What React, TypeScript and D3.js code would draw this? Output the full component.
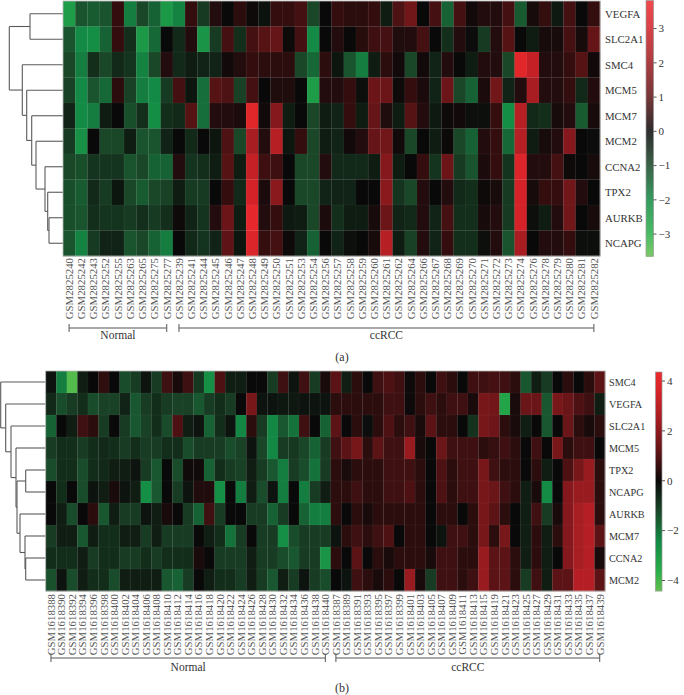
import * as d3 from "d3";

// ---------- panel (a) ----------
const topGenes = ["VEGFA", "SLC2A1", "SMC4", "MCM5", "MCM7", "MCM2", "CCNA2", "TPX2", "AURKB", "NCAPG"];
const topSamples = [
  "GSM2825240", "GSM2825242", "GSM2825243", "GSM2825252", "GSM2825255", "GSM2825263", "GSM2825265", "GSM2825275", "GSM2825277",
  "GSM2825239", "GSM2825241", "GSM2825244", "GSM2825245", "GSM2825246", "GSM2825247", "GSM2825248", "GSM2825249", "GSM2825250",
  "GSM2825251", "GSM2825253", "GSM2825254", "GSM2825256", "GSM2825257", "GSM2825258", "GSM2825259", "GSM2825260", "GSM2825261",
  "GSM2825262", "GSM2825264", "GSM2825266", "GSM2825267", "GSM2825268", "GSM2825269", "GSM2825270", "GSM2825271", "GSM2825272",
  "GSM2825273", "GSM2825274", "GSM2825276", "GSM2825278", "GSM2825279", "GSM2825280", "GSM2825281", "GSM2825282",
];
const topGroups = [{ label: "Normal", n: 9 }, { label: "ccRCC", n: 35 }];
const topValues = [
  [-2.5, -1.2, -1.3, -1.2, 0.5, -1.8, -1, -1.4, -2.4, -1.9, 0.5, -0.8, 0.3, 0, 0.4, 0.05, -0.15, 0.5, 0.5, 0.7, -1, 0, 0.5, 0.4, 0.4, 0.5, -0.3, 0.8, 1.3, 0, 0.7, -1.4, 0.7, 0.1, 0.3, 0.3, 0.7, -1.3, 0.15, 0.5, -0.25, 0.7, 0, 0.5],
  [-1.2, -2, -2.1, -1.4, 0.5, -0.6, -2.4, -1.5, 0, -0.5, 0.3, -2.3, -0.8, 0.7, -0.6, 0.7, 0.9, 1.1, 0.05, 0.7, -2, 0, 0.3, 0, 0.35, 0.6, 0.7, 0.25, 0.3, 0.7, 0, -0.6, 0.3, -0.05, -0.8, 0.3, 0.9, 0, -0.3, 0.15, 0.15, 0.7, 0.15, 1.1],
  [-1, -1.8, -0.6, -1, -0.5, -0.7, -1.9, -1, 0.3, -0.5, -0.3, -0.4, -0.4, 0.1, 0.3, 0.5, 0.4, 0.4, 0.4, -1, -1.5, 0.4, -0.2, -1.2, -1.8, -0.3, 0.4, 0.1, -1, 0.1, -0.4, 0.3, 0, -0.3, 0.3, 0.3, -1, 3.5, 2.8, 0.3, 0.3, 0.5, 0.9, 0.1],
  [-0.9, -2, -1.2, -1.5, 0.4, -0.9, -1.8, -2, -0.8, 0.7, -0.2, -1.6, 0.9, 0.8, -0.9, 0.7, 0, 0.25, 0.25, 0, -2.5, 0.3, 0.3, 0.5, -0.1, 1.2, 1.2, 0.05, 0.5, 0.2, -0.4, 1.2, -1, -1.4, 0.2, 1.3, -0.4, 0.3, 2.2, 0.3, 0.3, 0.5, -0.5, 0.3],
  [-0.4, -2, -1.8, -0.3, 0, -1.1, -0.6, -2.1, -0.6, -0.5, 0.9, -1.6, 0.3, 0.3, 0.2, 3.5, 0.1, 1.6, -0.3, 0, -1, -0.3, -0.4, 0.5, -0.3, 1.1, 0.25, -0.3, 0.9, 0.3, -0.25, 0.05, 0.1, -0.1, -0.1, 0.5, -2.1, 2.5, -0.5, -0.6, 0.15, 0.3, -1.3, 0.15],
  [-0.8, -2.2, 0, -1, -1, -0.3, -1.2, -1.2, -0.4, 0, -0.5, 0, -0.2, 0.8, -1, 2.2, 0.3, 2.5, -0.2, 0.5, -1, -0.3, -0.4, 0.1, 0.3, 1.1, 1.3, 0.1, -1, 0, -0.3, 0.02, -1, -1.4, 0.3, 0.5, -1.5, 2.5, -0.3, 0.15, 0.3, 1.6, 0, -0.05],
  [-1, -1.1, -0.7, -0.7, -0.7, -1.2, -1, -1.4, -1.4, 0.3, -0.7, -0.6, -0.3, 0.9, -0.3, 2.8, 0.6, 0.6, 0, -1, -1, 0.3, -0.5, -0.5, -0.5, -0.3, 1.6, -0.3, 0, 0.5, -0.7, 1.2, -0.8, -1.2, 0.2, 0.5, -0.7, 3.3, 0.3, 0.3, 0.7, 0.05, 0, 0.15],
  [-1.1, -1.3, -0.5, -0.8, -0.2, -1, -1.3, -1, -0.9, -0.3, -0.8, -0.8, 0, 0.5, -0.5, 3.1, 0.2, 1.7, 0, -1, -1, -0.4, -0.4, -0.4, 0, 0, 1.7, -0.7, -1, 0.3, 0, 0.3, -0.5, -0.6, 0.05, 0.15, -0.8, 3.1, 0.15, 0.5, 0.5, 1.3, 0.3, 0],
  [-1.1, -1.2, -0.6, -0.7, -0.7, -0.8, -0.6, -0.8, -0.6, 0.05, -0.4, -0.7, 0.3, 1.2, -0.3, 3.6, 0.3, 0.5, -0.25, -0.3, -1, 0.2, -0.6, -0.3, -0.3, 0.15, 1.2, -0.4, -0.5, 0.3, -0.4, 0.7, -0.6, -0.6, 0.15, 0.3, -0.8, 3.1, -0.1, -0.3, 0.3, 1.3, 0, 0.15],
  [-1.2, -1.9, -0.8, -0.4, -0.4, -1.2, -1, -1.4, -1.8, 0, -0.5, -0.7, -0.4, 1, -0.2, 3.3, 0.5, 0.7, 0.05, -0.4, -1.4, 0, -0.4, -0.1, 0, 0.15, 2.5, -0.3, -0.9, 0.3, -0.4, 0.5, -0.6, -0.6, -0.1, 0.3, -1.2, 2.2, 0, 0.3, 0.3, 0.5, -0.1, -0.1],
];
// row clustering, merge heights in pixel-distance units from the heatmap edge
const topTree = {
  h: 53.7, children: [
    { h: 33, children: [{ name: "VEGFA" }, { name: "SLC2A1" }] },
    { h: 40.7, children: [{ name: "SMC4" },
      { h: 36.3, children: [{ name: "MCM5" },
        { h: 31.3, children: [{ name: "MCM7" },
          { h: 27, children: [{ name: "MCM2" },
            { h: 18, children: [{ name: "CCNA2" },
              { h: 15.3, children: [{ name: "TPX2" },
                { h: 14, children: [{ name: "AURKB" }, { name: "NCAPG" }] }] }] }] }] }] }] },
  ],
};
const topTicks = [3, 2, 1, 0, -1, -2, -3];
const topRange = [-3.64, 3.82];

// ---------- panel (b) ----------
const botGenes = ["SMC4", "VEGFA", "SLC2A1", "MCM5", "TPX2", "NCAPG", "AURKB", "MCM7", "CCNA2", "MCM2"];
const botSamples = [
  "GSM1618388", "GSM1618390", "GSM1618392", "GSM1618394", "GSM1618396", "GSM1618398", "GSM1618400", "GSM1618402", "GSM1618404",
  "GSM1618406", "GSM1618408", "GSM1618410", "GSM1618412", "GSM1618414", "GSM1618416", "GSM1618418", "GSM1618420", "GSM1618422",
  "GSM1618424", "GSM1618426", "GSM1618428", "GSM1618430", "GSM1618432", "GSM1618434", "GSM1618436", "GSM1618438", "GSM1618440",
  "GSM1618387", "GSM1618389", "GSM1618391", "GSM1618393", "GSM1618395", "GSM1618397", "GSM1618399", "GSM1618401", "GSM1618403",
  "GSM1618405", "GSM1618407", "GSM1618409", "GSM1618411", "GSM1618413", "GSM1618415", "GSM1618419", "GSM1618421", "GSM1618423",
  "GSM1618425", "GSM1618427", "GSM1618429", "GSM1618431", "GSM1618433", "GSM1618435", "GSM1618437", "GSM1618439",
];
const botGroups = [{ label: "Normal", n: 27 }, { label: "ccRCC", n: 26 }];
const botValues = [
  [-0.2, -2.2, -4.2, -0.4, 0, 0.5, 0, -1.3, -1, -0.2, -1, 0.7, 0.2, 0.7, -0.9, -2.6, 0.9, -0.4, -0.4, 0, 0, -1, 0.7, -0.2, 0.7, -1, 0.2, 1.1, -0.4, 0.45, 0, 0.7, 0.9, 0.7, 0.05, 0.45, 0, 0.7, 0.45, 0, 0.7, 0.7, 0.8, 0.7, 0.45, -1.5, -0.4, -1, 0, 0.45, 0, 0.45, 1.1],
  [-0.6, -1.3, -1, -0.7, -1.3, -1.1, -1.1, -0.5, -1.5, -1, -0.7, -1, -1.1, -1.1, -1.5, -1, -0.7, -1, 0, 1.6, -0.2, -0.2, -0.3, -0.3, -0.2, -0.2, -0.2, 0.45, 0.45, 0.45, 0.45, 0.45, 0.7, 0.7, 0.05, 0.45, 0.7, 0.45, 0.7, 0.7, 0.2, 1.6, 1.5, -3.3, 0.2, 1.35, 1.35, -1.5, 1.6, 1.35, 0.9, 0.7, -0.4],
  [-1.7, 0, -0.4, 0.7, 0.45, -1, 0, -1, -1.5, -1.1, -0.7, -1.3, 0.9, -0.4, -0.2, -1.7, -0.7, -0.2, -2.4, 0.45, -1, -2.4, -1.5, -2, 0.7, 0, -1.7, 1.1, 0, 0.45, -0.1, 0.45, 0.9, 0.45, 0.7, 0.2, 1.1, 0.45, 0.45, 0, -0.8, 1.6, 1.4, 0.45, 0.2, -0.4, 0, -1.5, 0, 1.35, 0.45, 0.2, 0.45],
  [-1, -0.7, -0.7, -1, -0.7, -0.6, -0.7, -1, -0.7, -1, -1, -0.7, -0.7, -1.3, -1, -1, -1, -1.3, -1.1, -0.2, -1.2, -2.4, -1, -0.9, -1.2, -1.7, -1, 0.7, 1.1, 1.6, 0.45, 1.1, 0.7, 0.7, 2.2, 0.2, 0, 1.35, 0.7, 0.7, 0.7, 0.45, 0.6, 0.7, 0.45, 0, 0.7, 0, 1.6, 0.45, 0.7, 0.7, 0],
  [-1.3, -0.7, -0.7, -1.3, -0.7, -0.6, -0.4, -0.4, -0.2, -1, -1.5, 0, -1.3, 0.1, 0.1, -1.7, -0.7, -1, -1.1, -0.4, -1, -1.5, -2.2, -1, -1.3, -2, -1, 0.45, 0.2, 0.45, 0.45, 0.45, 0.7, 0.7, 0.7, 0.45, 0, 0.9, 0.45, 0.7, 0.7, 1.6, 0.7, 0.45, 0.45, 0, 0.45, -0.4, 0, 0.9, 1.6, 2.2, 0.45],
  [0, -0.7, 0, -1.3, -0.2, -0.4, 0.2, -0.2, -0.4, -2.6, -1.5, 0, -1, -0.2, 0.3, 0.3, -2.6, 0, -2.2, -0.4, -1.3, -0.2, -2.2, 0, -2.2, -1, -0.4, 0.45, 0.45, 0.7, 0.45, 0.45, 0.7, 0.7, 0.9, 0.45, 0, 0.9, 0.45, 0.7, 0.7, 1.6, 1.35, 0.7, 0.45, -0.4, 0.2, -2.5, 0, 1.85, 2.2, 2.2, 0.45],
  [0, -0.4, -1.3, 0, 0.45, -1.5, -0.4, -1, -1, -0.2, -0.4, 0.2, 0, -1, -1.7, 0.7, -1, 0, 0, -1, -1, -1.7, -1, 0, -1.7, -2.2, -2.2, 0.45, 0, 0.45, 0.2, 0.45, 0.45, 0.45, 0.45, 0.45, 0, 0.45, 0.45, 0, 0.45, 1.6, 1.1, 0.45, 0, -0.4, 0.7, -1, 0.2, 1.85, 2.5, 2.8, 0.45],
  [-1, -0.4, -0.4, -1.5, -0.4, -0.7, -0.7, -0.4, -0.4, -1, -0.4, -1, -1, -1, 0, -0.4, -0.7, -2, -1, 0, -1, -1, -2.6, -1.3, -1, -1, -1, -0.2, 0.45, 0.7, 0.45, 0.7, 0.9, 0, 0.45, 0.45, 0, -0.2, 0.7, 0.7, 0.45, 1.6, 0.45, 1.6, 0, -0.4, 0.45, -0.4, 0.45, 1.85, 2.5, 2.8, 1.1],
  [-0.7, -0.7, -0.7, -0.4, -1, -0.7, -0.7, -1, -1, -0.7, -1, -0.7, -0.7, -0.7, 0.2, 0, -1, -1, -1, -0.4, -1, -1, -1.3, -1.5, -1, -1, -2.8, 0.45, 0, 1.1, 0, 0.45, 0.2, 0.45, 0.45, 0.45, 0.2, 0.7, 0.7, 0.45, 0.45, 2.2, 1.1, 1.1, 0.45, -0.4, 0.45, -0.4, 0, 1.85, 2.5, 2.8, 0.2],
  [-1.4, -0.2, -1.3, -0.4, -0.7, -0.7, -1.3, -0.4, -0.4, -0.4, -0.4, -1.5, -1.7, -1, 0, -0.4, -0.7, -0.7, -1, -0.4, -1, -1.5, -0.4, -1, -0.2, -1, -1.3, 0, -0.2, 0.7, 0.45, 0.2, 0.45, 0, 2.2, 0.2, -1, 0.7, 0.7, 0.45, 0.7, 2.2, 1.1, 1.1, 0.45, -1, 0.7, -0.4, 1.1, 1.1, 2.8, 2.8, 1.1],
];
const botTree = {
  h: 45, children: [{ name: "SMC4" },
    { h: 40, children: [{ name: "VEGFA" },
      { h: 34.7, children: [{ name: "SLC2A1" },
        { h: 29.7, children: [{ name: "MCM5" },
          { h: 28.7, children: [
            { h: 20, children: [{ name: "TPX2" }, { name: "NCAPG" }] },
            { h: 25.7, children: [{ name: "AURKB" },
              { h: 20.7, children: [{ name: "MCM7" },
                { h: 20, children: [{ name: "CCNA2" }, { name: "MCM2" }] }] }] },
          ] }] }] }] },
  ],
};
const botTicks = [4, 2, 0, -2, -4];
const botRange = [-4.42, 4.36];

// red / black / green map, stops relative to each panel's extreme values
const relStops = [-1, -0.82, -0.55, -0.27, 0, 0.27, 0.55, 0.8, 1];
const relColors = ["#62bf4d", "#2aae4a", "#138a45", "#1a4628", "#0a0909", "#611416", "#a21c21", "#d22228", "#ee2a2d"];

const makeColor = (range: number[]) =>
  d3.scaleLinear<string>()
    .domain(relStops.map((r) => (r < 0 ? -r * range[0] : r * range[1])))
    .range(relColors)
    .interpolate(d3.interpolateRgb)
    .clamp(true);

const FONT = "'Liberation Serif', 'Times New Roman', serif";

type Layout = {
  left: number; right: number; top: number; bottom: number; rootX: number;
  geneX: number; geneFont: number; sampleTop: number; bracketY: number; groupY: number;
  caption: string; captionY: number; cbX: number; cbW: number; cbTop: number; cbBottom: number;
};

function Panel({ genes, samples, values, tree, groups, ticks, range, L }: any) {
  const lay: Layout = L;
  const color = makeColor(range);
  const x = d3.scaleBand<string>().domain(samples).range([lay.left, lay.right]);
  const y = d3.scaleBand<string>().domain(genes).range([lay.top, lay.bottom]);
  const cy = (g: string) => (y(g) as number) + y.bandwidth() / 2;
  const cx = (s: string) => (x(s) as number) + x.bandwidth() / 2;

  // dendrogram
  const root = d3.hierarchy<any>(tree);
  const hx = d3.scaleLinear().domain([0, tree.h]).range([lay.left, lay.rootX]);
  const pos = new Map<any, number>();
  root.eachAfter((n) => {
    if (!n.children) pos.set(n, cy(n.data.name));
    else pos.set(n, d3.mean(n.children, (c) => pos.get(c) as number) as number);
  });
  const segs: number[][] = [];
  root.each((n) => {
    if (!n.children) return;
    const xn = hx(n.data.h);
    const ys = n.children.map((c) => pos.get(c) as number);
    segs.push([xn, d3.min(ys) as number, xn, d3.max(ys) as number]);
    n.children.forEach((c) => {
      segs.push([xn, pos.get(c) as number, hx(c.data.h || 0), pos.get(c) as number]);
    });
  });

  // colour bar
  const cbY = d3.scaleLinear().domain(range).range([lay.cbBottom, lay.cbTop]);
  const strips = d3.range(lay.cbTop, lay.cbBottom, 1);

  // groups
  let start = 0;
  const groupSpans = groups.map((g: any) => {
    const a = cx(samples[start]);
    const b = cx(samples[start + g.n - 1]);
    start += g.n;
    return { label: g.label, a, b };
  });

  return (
    <g fontFamily={FONT}>
      <g stroke="#5a5a5a" strokeWidth={1.1} fill="none">
        {segs.map((s, i) => <line key={i} x1={s[0]} y1={s[1]} x2={s[2]} y2={s[3]} />)}
      </g>
      <g>
        {values.map((row: number[], r: number) =>
          row.map((v, c) => (
            <rect key={r + "-" + c} x={x(samples[c])} y={y(genes[r])} width={x.bandwidth() + 0.3} height={y.bandwidth() + 0.3}
              fill={color(v)} stroke="rgba(255,255,255,0.09)" strokeWidth={0.5} />
          )))}
        <rect x={lay.left} y={lay.top} width={lay.right - lay.left} height={lay.bottom - lay.top} fill="none" stroke="#b5b5b5" strokeWidth={0.8} />
      </g>
      <g fill="#333" fontSize={lay.geneFont}>
        {genes.map((g: string) => <text key={g} x={lay.geneX} y={cy(g)} dy="0.35em">{g}</text>)}
      </g>
      <g fill="#555" fontSize={10.8}>
        {samples.map((s: string) => (
          <text key={s} transform={`translate(${cx(s)},${lay.sampleTop}) rotate(-90)`} textAnchor="end" dy="0.35em">{s}</text>
        ))}
      </g>
      <g stroke="#555" strokeWidth={1} fill="none">
        {groupSpans.map((g: any) => (
          <g key={g.label}>
            <line x1={g.a} x2={g.b} y1={lay.bracketY} y2={lay.bracketY} />
            <line x1={g.a} x2={g.a} y1={lay.bracketY - 4} y2={lay.bracketY + 4} />
            <line x1={g.b} x2={g.b} y1={lay.bracketY - 4} y2={lay.bracketY + 4} />
          </g>
        ))}
      </g>
      <g fill="#333" fontSize={11.5} textAnchor="middle">
        {groupSpans.map((g: any) => <text key={g.label} x={(g.a + g.b) / 2} y={lay.groupY}>{g.label}</text>)}
      </g>
      <text x={342} y={lay.captionY} textAnchor="middle" fontSize={12} fill="#333">{lay.caption}</text>
      <g>
        {strips.map((yy) => (
          <rect key={yy} x={lay.cbX} y={yy} width={lay.cbW} height={1.2} fill={color(cbY.invert(yy + 0.5))} />
        ))}
        <rect x={lay.cbX} y={lay.cbTop} width={lay.cbW} height={lay.cbBottom - lay.cbTop} fill="none" stroke="#9a9a9a" strokeWidth={0.7} />
        {ticks.map((t: number) => (
          <g key={t}>
            <line x1={lay.cbX + lay.cbW} x2={lay.cbX + lay.cbW + 3} y1={cbY(t)} y2={cbY(t)} stroke="#555" />
            <text x={lay.cbX + lay.cbW + 5} y={cbY(t)} dy="0.35em" fontSize={11} fill="#333">
              {t < 0 ? "\u2212" + Math.abs(t) : String(t)}
            </text>
          </g>
        ))}
      </g>
    </g>
  );
}

const layoutA: Layout = {
  left: 63, right: 600, top: 1, bottom: 256, rootX: 9.3, geneX: 605, geneFont: 10.8,
  sampleTop: 258, bracketY: 328, groupY: 339, caption: "(a)", captionY: 361,
  cbX: 646, cbW: 7.5, cbTop: 0.5, cbBottom: 256,
};
const layoutB: Layout = {
  left: 45.7, right: 605, top: 371, bottom: 591, rootX: 0.7, geneX: 609, geneFont: 10.2,
  sampleTop: 594, bracketY: 658, groupY: 671, caption: "(b)", captionY: 692,
  cbX: 655.5, cbW: 6.5, cbTop: 372, cbBottom: 591,
};

export default function App() {
  return (
    <svg width={684} height={695} style={{ position: "absolute", left: 0, top: 0, background: "#fff" }}>
      <Panel genes={topGenes} samples={topSamples} values={topValues} tree={topTree} groups={topGroups}
        ticks={topTicks} range={topRange} L={layoutA} />
      <Panel genes={botGenes} samples={botSamples} values={botValues} tree={botTree} groups={botGroups}
        ticks={botTicks} range={botRange} L={layoutB} />
    </svg>
  );
}
